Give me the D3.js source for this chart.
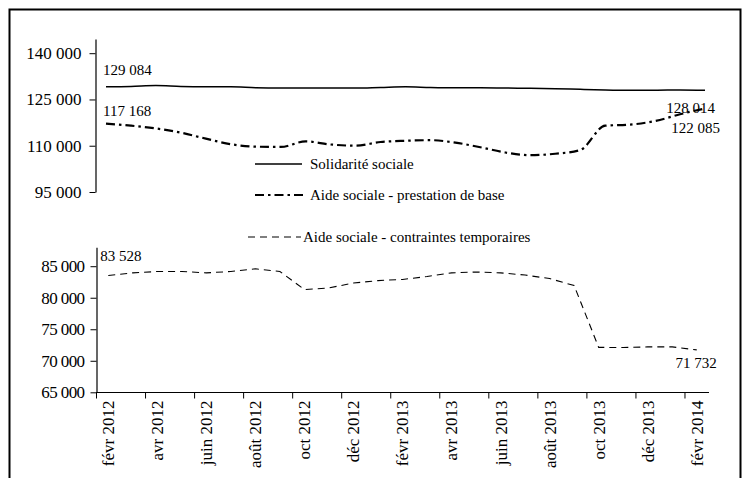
<!DOCTYPE html>
<html>
<head>
<meta charset="utf-8">
<script src="https://cdn.jsdelivr.net/npm/d3@7"></script>
<style>
  html, body { margin: 0; padding: 0; background: #fff; }
  svg { display: block; }
  svg text { font-family: "Liberation Serif", "Times New Roman", "DejaVu Serif", serif !important; }
</style>
</head>
<body>
<svg id="chart" width="749" height="478"></svg>
<script>
const months = ["févr 2012","mars 2012","avr 2012","mai 2012","juin 2012","juil 2012","août 2012","sept 2012","oct 2012","nov 2012","déc 2012",
  "janv 2013","févr 2013","mars 2013","avr 2013","mai 2013","juin 2013","juil 2013","août 2013","sept 2013","oct 2013","nov 2013","déc 2013",
  "janv 2014","févr 2014"];

const solidarite = [129084,129200,129500,129200,129100,129100,128800,128700,128700,128700,128700,128900,129100,
  128900,128800,128800,128700,128600,128500,128300,128100,128000,128000,128100,128014];

const prestationBase = [117168,116500,115600,114250,112300,110500,109700,109600,111400,110400,110000,111200,111600,
  111800,111000,109500,107800,106950,107400,108600,116500,116850,118000,120200,122085];

const contraintesTemp = [83528,83950,84160,84160,83950,84160,84590,84160,81290,81560,82330,82720,82900,
  83360,83950,84080,83950,83600,83040,81930,72130,72100,72200,72200,71732];

const topTicks = [95000,110000,125000,140000];
const bottomTicks = [65000,70000,75000,80000,85000];

const seriesNames = ["Solidarité sociale","Aide sociale - prestation de base","Aide sociale - contraintes temporaires"];

const FONT = "Liberation Serif, Times New Roman, DejaVu Serif, serif";
const loc = d3.formatLocale({decimal: ",", thousands: " ", grouping: [3], currency: ["", ""]});
const fmt = loc.format(",d");

const svg = d3.select("#chart").attr("font-family", FONT);

// outer frame
svg.append("rect").attr("x", 9.5).attr("y", 9.5).attr("width", 731).attr("height", 520)
  .attr("fill", "none").attr("stroke", "#000").attr("stroke-width", 2);

// ---------- top panel ----------
const xTop = d3.scalePoint().domain(months).range([106, 705]);
const yTop = d3.scaleLinear().domain([95000, 144600]).range([192, 39]);

const gTopAxis = svg.append("g").attr("transform", "translate(95.5,0)")
  .call(d3.axisLeft(yTop).tickValues(topTicks).tickFormat(fmt).tickSize(6).tickSizeOuter(0))
  .attr("font-family", FONT);
gTopAxis.select(".domain").attr("stroke", "#000").attr("stroke-width", 1.2);
gTopAxis.selectAll(".tick line").attr("stroke", "#000");
gTopAxis.selectAll("text").attr("font-size", 17).attr("font-family", FONT).attr("fill", "#000").attr("x", -14);

const lineTopSolid = d3.line().x((d, i) => xTop(months[i])).y(d => yTop(d)).curve(d3.curveMonotoneX);

svg.append("path").datum(solidarite).attr("d", lineTopSolid)
  .attr("fill", "none").attr("stroke", "#000").attr("stroke-width", 1.5);
svg.append("path").datum(prestationBase).attr("d", lineTopSolid)
  .attr("fill", "none").attr("stroke", "#000").attr("stroke-width", 2.2)
  .attr("stroke-dasharray", "9,4,2.5,4");

// ---------- bottom panel ----------
const xBot = d3.scaleBand().domain(months).range([96, 709]);
const yBot = d3.scaleLinear().domain([65000, 88000]).range([392.3, 247.3]);

const gBotY = svg.append("g").attr("transform", "translate(96.5,0)")
  .call(d3.axisLeft(yBot).tickValues(bottomTicks).tickFormat(fmt).tickSize(6).tickSizeOuter(0))
  .attr("font-family", FONT);
gBotY.select(".domain").attr("stroke", "#000").attr("stroke-width", 1.2);
gBotY.selectAll(".tick line").attr("stroke", "#000");
gBotY.selectAll("text").attr("font-size", 17).attr("font-family", FONT).attr("fill", "#000").attr("x", -12)
  .attr("letter-spacing", -0.6);

// x axis
const gX = svg.append("g").attr("transform", "translate(0,392.5)");
gX.append("line").attr("x1", 96).attr("x2", 709).attr("y1", 0).attr("y2", 0).attr("stroke", "#000").attr("stroke-width", 1.2);
const evenMonths = months.filter((m, i) => i % 2 === 0);
gX.selectAll("line.tk").data(evenMonths).enter().append("line").attr("class", "tk")
  .attr("x1", d => xBot(d) + 0.5).attr("x2", d => xBot(d) + 0.5).attr("y1", 0).attr("y2", 6)
  .attr("stroke", "#000");
gX.selectAll("text").data(evenMonths).enter().append("text")
  .attr("transform", d => `translate(${xBot(d) + xBot.bandwidth() / 2},8) rotate(-90)`)
  .attr("text-anchor", "end").attr("dy", "0.35em").attr("font-family", FONT)
  .attr("font-size", 17).attr("fill", "#000").text(d => d);

const lineBot = d3.line().x((d, i) => xBot(months[i]) + xBot.bandwidth() / 2).y(d => yBot(d));
svg.append("path").datum(contraintesTemp).attr("d", lineBot)
  .attr("fill", "none").attr("stroke", "#000").attr("stroke-width", 1.1)
  .attr("stroke-dasharray", "7,5");

// ---------- data labels ----------
const last = months.length - 1;
const lbl = (x, y, t, anchor) => svg.append("text").attr("x", x).attr("y", y)
  .attr("text-anchor", anchor || "start").attr("font-family", FONT).attr("font-size", 15).attr("fill", "#000").text(t);

lbl(xTop(months[0]) - 3, yTop(solidarite[0]) - 12, fmt(solidarite[0]));
lbl(xTop(months[0]) - 3, yTop(prestationBase[0]) - 8, fmt(prestationBase[0]));
lbl(xTop(months[last]) + 10, yTop(solidarite[last]) + 23, fmt(solidarite[last]), "end");
lbl(xTop(months[last]) + 15, yTop(prestationBase[last]) + 25, fmt(prestationBase[last]), "end");
const bx0 = xBot(months[0]) + xBot.bandwidth() / 2;
const bxN = xBot(months[last]) + xBot.bandwidth() / 2;
lbl(bx0 - 8, yBot(contraintesTemp[0]) - 14, fmt(contraintesTemp[0]));
lbl(bxN + 20, yBot(contraintesTemp[last]) + 18, fmt(contraintesTemp[last]), "end");

// ---------- legend ----------
const legend = [
  {name: seriesNames[0], x1: 255, x2: 302, tx: 310, y: 164, w: 1.5, dash: null},
  {name: seriesNames[1], x1: 255, x2: 305, tx: 310, y: 195, w: 2.2, dash: "9,4,2.5,4"},
  {name: seriesNames[2], x1: 248, x2: 301, tx: 303, y: 237, w: 1.1, dash: "7,5"}
];
const lg = svg.append("g");
legend.forEach(l => {
  const ln = lg.append("line").attr("x1", l.x1).attr("x2", l.x2).attr("y1", l.y).attr("y2", l.y)
    .attr("stroke", "#000").attr("stroke-width", l.w);
  if (l.dash) ln.attr("stroke-dasharray", l.dash);
  lg.append("text").attr("x", l.tx).attr("y", l.y).attr("dy", "0.32em").attr("font-family", FONT)
    .attr("font-size", 15).attr("fill", "#000").text(l.name);
});
</script>
</body>
</html>
